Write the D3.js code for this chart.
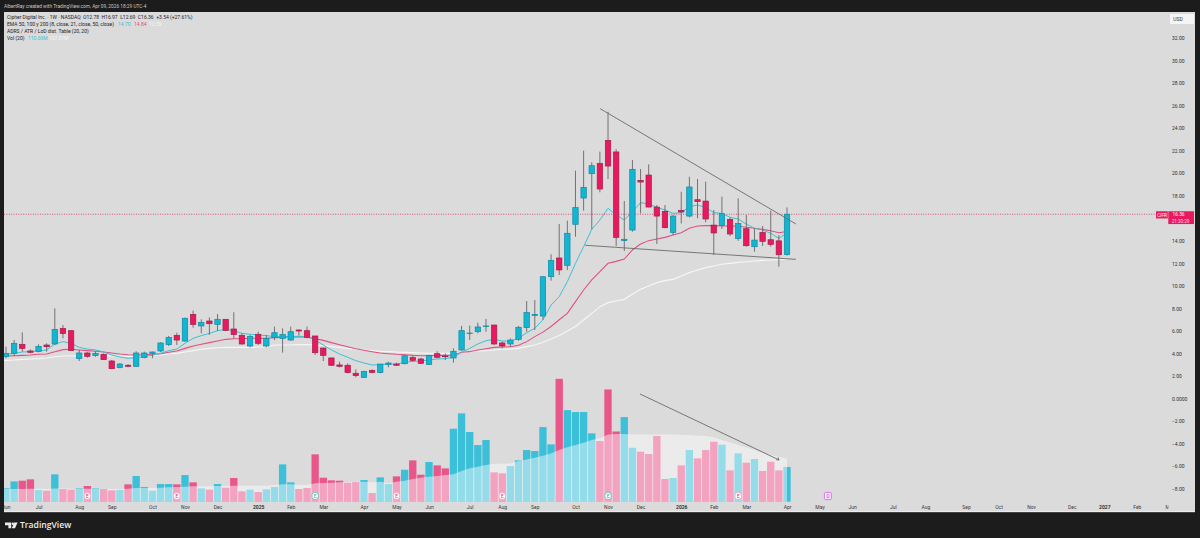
<!DOCTYPE html>
<html><head><meta charset="utf-8">
<script src="https://cdn.jsdelivr.net/npm/d3@7"></script>
<style>html,body{margin:0;padding:0;background:#1c1c1c;overflow:hidden}svg{display:block}text{font-family:Roboto,"Noto Sans",sans-serif}</style>
</head><body><svg id="c" width="1200" height="538"></svg>
<script>
// Weekly bars; the first entry is the partly hidden bar left of June 2024.
const open=[3.75,3.73,4.02,4.82,4.23,4.17,4.76,4.85,6.24,6.03,3.55,4.05,3.81,3.93,3.34,2.75,2.96,2.87,3.64,4.02,4.23,4.79,5.62,5.11,7.48,6.45,6.89,6.59,7.04,6.18,5.62,4.67,5.71,4.67,5.41,5.35,5.2,6.09,6.03,5.56,4.49,3.61,2.99,2.96,2.25,1.89,2.51,2.31,3.04,3.07,3.1,3.64,3.52,3.04,3.99,3.78,3.61,4.32,5.77,5.94,6.39,6.53,4.94,4.85,5.26,6.3,7.39,7.33,10.82,12.48,11.83,15.47,17.8,19.96,20.88,22.92,21.89,14.02,14.96,19.37,19.84,17.0,16.62,14.75,16.71,16.2,17.65,17.53,15.4,15.35,15.91,14.22,15.08,13.48,14.75,14.1,14.0,12.78];
const close=[3.95,4.02,4.91,4.46,4.11,4.64,4.61,6.15,5.77,4.26,4.05,3.75,4.02,3.46,2.66,3.07,2.87,4.05,4.05,4.14,4.94,5.44,5.2,7.13,6.59,6.77,6.65,7.04,6.06,5.68,4.85,5.53,4.91,5.35,5.85,5.68,5.94,6.0,5.44,4.08,3.84,2.96,2.87,2.31,2.04,2.4,2.33,3.07,3.16,2.96,3.81,3.4,3.13,3.84,3.67,3.72,4.2,6.03,5.82,6.36,6.45,4.85,4.67,5.2,6.33,7.63,7.48,10.82,12.27,11.42,14.67,16.95,18.75,20.67,18.6,20.64,14.31,14.14,20.35,19.22,17.0,16.2,15.17,16.2,16.56,18.78,17.5,15.94,14.7,16.41,14.61,15.55,13.57,14.07,13.96,13.69,12.77,16.36];
const high=[4.05,4.61,5.2,5.88,4.37,4.82,4.91,8.01,6.53,6.09,4.32,4.14,4.2,4.02,3.43,3.16,3.07,4.2,4.17,4.17,5.0,5.56,5.85,7.19,7.81,7.04,7.21,7.51,7.04,7.66,5.8,5.65,5.94,5.65,6.39,6.24,6.39,6.15,6.39,5.56,4.55,3.64,3.28,3.13,2.6,2.48,2.6,3.07,3.28,3.19,3.87,3.78,3.61,3.9,4.2,4.02,4.46,6.45,6.48,6.74,7.07,6.56,5.06,5.35,6.45,8.66,8.75,10.82,12.81,15.5,15.79,20.23,22.0,20.97,21.92,25.46,22.12,17.54,21.18,20.38,20.79,17.18,17.18,16.29,18.36,19.69,19.49,19.25,16.74,17.92,16.06,17.77,16.29,15.11,15.32,16.68,14.52,16.97];
const low=[3.6,3.58,3.78,4.17,4.02,4.11,4.17,4.76,5.35,4.23,3.34,3.64,3.72,3.43,2.6,2.69,2.78,2.81,3.58,3.58,4.14,4.67,4.76,5.06,6.3,5.8,5.65,6.0,6.0,5.35,4.76,4.55,4.76,4.55,5.2,4.08,5.14,5.59,5.35,3.87,3.34,2.9,2.78,2.25,1.89,1.83,2.25,2.25,2.78,2.9,3.04,3.28,3.07,2.98,3.58,3.43,3.19,4.23,5.2,5.8,5.94,4.76,4.46,4.61,5.14,5.94,6.09,7.0,10.47,10.97,11.42,14.37,16.68,15.02,18.31,19.49,13.55,13.1,14.82,16.44,16.98,13.72,15.11,14.52,15.55,16.09,16.0,15.64,12.74,15.05,14.43,14.0,13.48,13.04,13.54,13.48,11.71,12.69];
const emaBlue=[3.85,3.93,4.02,4.14,4.17,4.23,4.32,4.85,5.06,4.91,4.55,4.40,4.32,4.14,3.87,3.70,3.58,3.64,3.75,3.84,4.02,4.26,4.40,4.91,5.35,5.59,5.79,6.03,6.15,6.03,5.79,5.71,5.65,5.59,5.50,5.50,5.50,5.53,5.50,5.20,4.76,4.32,3.96,3.67,3.37,3.16,2.99,3.01,3.07,3.07,3.22,3.31,3.34,3.43,3.52,3.55,3.67,4.11,4.46,4.85,5.14,5.26,5.11,5.11,5.35,5.85,6.24,7.0,8.3,9.05,10.38,12.01,13.49,15.02,15.85,16.89,16.30,15.85,16.59,17.39,17.27,16.98,16.74,16.44,16.50,17.03,17.18,16.97,16.50,16.44,16.09,15.94,15.49,15.11,14.96,14.67,14.22,14.70];
const emaPink=[3.76,3.78,3.81,3.84,3.87,3.93,3.96,4.17,4.35,4.38,4.32,4.26,4.20,4.14,4.05,3.96,3.90,3.87,3.90,3.93,3.99,4.11,4.23,4.46,4.67,4.82,4.97,5.11,5.26,5.32,5.32,5.35,5.35,5.35,5.41,5.44,5.47,5.50,5.47,5.32,5.17,4.97,4.79,4.61,4.43,4.29,4.17,4.05,3.99,3.93,3.90,3.84,3.81,3.81,3.84,3.84,3.87,4.11,4.17,4.32,4.43,4.55,4.58,4.61,4.73,5.06,5.5,5.9,6.4,7.0,7.57,8.61,9.64,10.53,11.27,12.01,12.18,12.39,13.19,13.72,14.02,14.17,14.31,14.52,14.72,15.11,15.32,15.35,15.35,15.32,15.32,15.29,15.20,15.11,15.02,14.90,14.72,14.84];
const emaWhite=[3.38,3.40,3.43,3.49,3.52,3.55,3.61,3.72,3.78,3.81,3.81,3.81,3.81,3.81,3.78,3.78,3.75,3.75,3.78,3.81,3.87,3.96,4.02,4.14,4.26,4.38,4.46,4.52,4.55,4.55,4.55,4.55,4.58,4.58,4.76,4.76,4.76,4.79,4.79,4.76,4.70,4.61,4.55,4.46,4.38,4.32,4.26,4.20,4.17,4.14,4.11,4.08,4.05,4.02,4.02,4.02,4.02,4.11,4.17,4.23,4.26,4.32,4.38,4.40,4.46,4.61,4.76,5.0,5.3,5.6,6.0,6.4,6.98,7.57,8.16,8.52,8.66,8.81,9.29,9.70,10.0,10.29,10.47,10.58,10.88,11.18,11.41,11.62,11.77,11.92,12.0,12.09,12.15,12.21,12.27,12.30,12.36,12.39];
const volume=[42,42.5,64.8,67,71.2,37.2,35,87.2,40.4,38.3,42.5,50,42.5,40.4,36.1,37.2,55.3,81.9,46.8,35,56.3,56.3,55.3,85,61.7,42.5,38.3,56.3,44.6,75.5,33,38.3,30.8,39.3,46.8,119,61.7,40.4,43.6,151,76.5,68,67,60.6,62.7,69.1,27.6,77.6,56.3,80.8,102,131.8,86.1,126.5,115.9,106.3,232.8,281.7,222.2,180.7,196.7,93.5,90.4,113.7,131.8,164.8,161.6,238,182.8,392,292,286,286,218,193.5,358,224,270,172,159.5,152,209.4,72.3,75.5,115.9,164.8,138.2,164.8,191.3,181.8,99.9,154.1,124.4,136.1,97.8,127.6,99.9,110.69];
const volumeMA=[40.4,40.4,40.4,40.4,41.5,41.5,40.4,42.5,42.5,41.5,41.5,41.5,41.5,41.5,40.4,40.4,41.5,43.6,43.6,43.6,44.6,45.7,46.8,47.8,48.9,48.9,48.9,50,50,51,51,51,51,51,52.1,55.3,55.3,53.2,53.2,58.5,59.5,60.6,61.7,62.7,63.8,63.8,61.7,63.8,59.5,63.8,67,72.3,76.5,79.7,81.9,85,87.2,97.8,106.3,111.6,116.9,121.2,121.2,122.2,129.7,135,140.3,146.7,154.1,164.8,173.3,180.7,188.2,196.7,202,214.7,215.8,215.8,214.7,214.7,214.7,214.7,214.7,214.7,212.6,212.6,210.5,209.4,205.2,196.7,189.2,180.7,173.3,164.8,156.3,148.8,143.5,137.07];

const priceTicks=[32,30,28,26,24,22,20,18,14,12,10,8,6,4,2,0,-2,-4,-6,-8];
const timeTickWeeks=[0,4,9,13,18,22,26,31,35,39,44,48,52,57,61,65,70,74,78,83,87,91,96,100,104,109,113,118,122,126,131,135,139,143];
const timeTickLabels=["Jun","Jul","Aug","Sep","Oct","Nov","Dec","2025","Feb","Mar","Apr","May","Jun","Jul","Aug","Sep","Oct","Nov","Dec","2026","Feb","Mar","Apr","May","Jun","Jul","Aug","Sep","Oct","Nov","Dec","2027","Feb","Mar"];
const earningsWeeks=[10,21,38,48,61,74,90];
const earningsBeat=[false,false,true,false,false,true,false];
const upperTrendWeeks=[73.03,97.09], upperTrendPrices=[25.73,15.5];
const lowerTrendWeeks=[71.18,97.09], lowerTrendPrices=[13.61,12.36];
const volumeArrowWeeks=[77.94,95.03], volumeArrowPrices=[0.41,-5.44];
const lastPrice=16.36, dividendWeek=101;

const UP="#12b6d2",DOWN="#e8195f",UPEDGE="#0f8ba3",DOWNEDGE="#a81c4c";
const W=1200,H=538,L=4,T=12,R=1195,B=512;
const svg=d3.select("#c");
const week=d3.scaleLinear().domain([0,96]).range([6,787]);
const price=d3.scaleLinear().domain([32,-8]).range([38,488.8]);
const vol=d3.scaleLinear().domain([0,392]).range([501.7,378.8]);
const X=i=>week(i-1); // array position -> week position
const bars=d3.range(open.length);

svg.append("rect").attr("width",W).attr("height",H).attr("fill","#1c1c1c");
svg.append("rect").attr("x",L).attr("y",T).attr("width",R-L).attr("height",B-T).attr("fill","#dbdbdb");
svg.append("rect").attr("x",L).attr("y",B-1).attr("width",R-L).attr("height",1.2).attr("fill","#ececec");
svg.append("defs").append("clipPath").attr("id","pane").append("rect").attr("x",L).attr("y",T).attr("width",1166).attr("height",B-T-1);
const g=svg.append("g").attr("clip-path","url(#pane)");

// volume
const barW=(week(1)-week(0))-0.8;
g.append("g").selectAll("rect").data(bars).join("rect")
 .attr("x",i=>X(i)-barW/2).attr("width",barW)
 .attr("y",i=>vol(volume[i])).attr("height",i=>vol(0)-vol(volume[i]))
 .attr("fill",i=>close[i]>=open[i]?"#3cc0d9":"#e9568a");
g.append("path").datum(bars)
 .attr("d",d3.area().x(X).y0(vol(0)).y1(i=>vol(volumeMA[i])))
 .attr("fill","#fff").attr("fill-opacity",0.45);

// EMAs
[[emaWhite,"#f6f6f6",1.15],[emaPink,"#e0507f",1.05],[emaBlue,"#3fc0d4",1]].forEach(([a,c,w])=>{
 g.append("path").datum(a).attr("fill","none").attr("stroke",c).attr("stroke-width",w)
  .attr("d",d3.line().x((d,i)=>X(i)).y(d=>price(d)));
});

// last-price line
g.append("line").attr("x1",L).attr("x2",1156).attr("y1",price(lastPrice)).attr("y2",price(lastPrice))
 .attr("stroke","#c4385f").attr("stroke-width",0.8).attr("stroke-dasharray","1 1.4");

// candles
const cg=g.append("g");
cg.selectAll("line").data(bars).join("line")
 .attr("x1",X).attr("x2",X).attr("y1",i=>price(high[i])).attr("y2",i=>price(low[i]))
 .attr("stroke","#666").attr("stroke-width",0.9);
const bodyW=5.4;
cg.selectAll("rect").data(bars).join("rect")
 .attr("x",i=>X(i)-bodyW/2).attr("width",bodyW)
 .attr("y",i=>price(Math.max(open[i],close[i])))
 .attr("height",i=>Math.max(0.6,Math.abs(price(open[i])-price(close[i]))))
 .attr("fill",i=>close[i]>=open[i]?UP:DOWN)
 .attr("stroke",i=>close[i]>=open[i]?UPEDGE:DOWNEDGE).attr("stroke-width",0.7);

// drawings
const segment=(wk,pr)=>g.append("line").attr("x1",week(wk[0])).attr("x2",week(wk[1])).attr("y1",price(pr[0])).attr("y2",price(pr[1])).attr("stroke","#6b6b6b").attr("stroke-width",0.9);
segment(upperTrendWeeks,upperTrendPrices);
segment(lowerTrendWeeks,lowerTrendPrices);
segment(volumeArrowWeeks,volumeArrowPrices);
const ax=week(volumeArrowWeeks[1]),ay=price(volumeArrowPrices[1]);
g.append("path").attr("d",`M${ax-3},${ay-0.2}L${ax},${ay}L${ax-1.2},${ay-2.8}`).attr("fill","none").attr("stroke","#6b6b6b").attr("stroke-width",0.8);

// earnings badges
const ey=496;
const eg=g.append("g").selectAll("g").data(earningsWeeks).join("g").attr("transform",d=>`translate(${week(d)},${ey})`);
eg.append("rect").attr("x",-3.2).attr("y",-3.4).attr("width",6.4).attr("height",6.8).attr("rx",2.6)
 .attr("fill","#fff").attr("stroke",(d,i)=>earningsBeat[i]?"#59c6b0":"#f7a5bf").attr("stroke-width",0.9);
eg.append("text").text("E").attr("text-anchor","middle").attr("y",1.7).attr("font-size",4.6).attr("fill",(d,i)=>earningsBeat[i]?"#2a9d8f":"#e8195f");
const dg=g.append("g").attr("transform",`translate(${week(dividendWeek)},${ey})`);
dg.append("rect").attr("x",-3.3).attr("y",-3.6).attr("width",7).attr("height",7.2).attr("rx",1.2).attr("fill","#f8e4fb").attr("stroke","#d76be6").attr("stroke-width",0.9);
dg.append("text").text("D").attr("text-anchor","middle").attr("x",0.2).attr("y",1.7).attr("font-size",4.6).attr("fill","#c040d8");

// price axis
const pa=svg.append("g").attr("transform","translate(1171,0)")
 .call(d3.axisRight(price).tickValues(priceTicks).tickSize(0).tickPadding(1)
  .tickFormat(d=>d===0?"0.0000":(d<0?"\u2212":"")+Math.abs(d).toFixed(2)));
pa.select(".domain").remove();
pa.selectAll("text").attr("font-size",5).attr("fill","#2e2e2e");

// time axis
const ta=svg.append("g").attr("transform","translate(0,502)")
 .call(d3.axisBottom(week).tickValues(timeTickWeeks).tickSize(0).tickPadding(3.2)
  .tickFormat((d,i)=>timeTickLabels[i]));
ta.select(".domain").remove();
ta.selectAll("text").attr("font-size",5).attr("fill",(d,i)=>/^20/.test(timeTickLabels[i])?"#222":"#3a3a3a")
 .attr("font-weight",(d,i)=>/^20/.test(timeTickLabels[i])?"600":"400");
// labels at the pane edges are cut off, as in the reference
svg.append("rect").attr("x",0).attr("y",T).attr("width",L).attr("height",B-T).attr("fill","#1c1c1c");
svg.append("rect").attr("x",1168.5).attr("y",502).attr("width",26.5).attr("height",9).attr("fill","#dbdbdb");

// currency + price labels
svg.append("rect").attr("x",1170).attr("y",14).attr("width",24).attr("height",10).attr("fill","#f5f5f5").attr("rx",0.5);
svg.append("text").text("USD").attr("x",1178).attr("y",20.8).attr("text-anchor","middle").attr("font-size",5).attr("fill","#333");
const py=price(lastPrice);
svg.append("rect").attr("x",1156).attr("y",py-3).attr("width",11.8).attr("height",7.2).attr("fill",DOWN);
svg.append("text").text("CIFR").attr("x",1162).attr("y",py+2.4).attr("text-anchor","middle").attr("font-size",4.6).attr("fill","#fff");
svg.append("rect").attr("x",1168.3).attr("y",py-3).attr("width",25.7).attr("height",12.8).attr("fill",DOWN);
svg.append("text").text(lastPrice.toFixed(2)).attr("x",1178.5).attr("y",py+1.8).attr("text-anchor","middle").attr("font-size",4.8).attr("fill","#fff");
svg.append("text").text("21:30:29").attr("x",1180.5).attr("y",py+8.4).attr("text-anchor","middle").attr("font-size",4.6).attr("fill","#ffd6e3");

// header
svg.append("text").text("AlbertRay created with TradingView.com, Apr 09, 2026 18:29 UTC-4").attr("x",4).attr("y",7.8).attr("font-size",4.8).attr("fill","#c8c8c8");

// legend
const leg=svg.append("g").attr("font-size",5).attr("fill","#222");
leg.append("text").text("Cipher Digital Inc. \u00b7 1W \u00b7 NASDAQ  O12.78  H16.97  L12.69  C16.36  +3.54 (+27.61%)").attr("x",7).attr("y",18.8).attr("xml:space","preserve");
const r2=leg.append("text").attr("x",7).attr("y",26);
r2.append("tspan").text("EMA 50, 100 y 200 (8, close, 21, close, 50, close)");
r2.append("tspan").attr("fill","#3fc0d4").attr("x",118).text("14.70");
r2.append("tspan").attr("fill","#e0507f").attr("x",134).text("14.84");
r2.append("tspan").attr("fill","#f6f6f6").attr("x",149).text("12.59");
leg.append("text").text("ADRS / ATR / LoD dist. Table (20, 20)").attr("x",7).attr("y",32.8);
const r4=leg.append("text").attr("x",7).attr("y",39.8);
r4.append("tspan").text("Vol (20)");
r4.append("tspan").attr("fill","#3fc0d4").attr("x",28).text("110.69M");
r4.append("tspan").attr("fill","#f6f6f6").attr("x",49).text("137.07M");

// footer logo
const lg=svg.append("g").attr("fill","#ececec");
lg.append("path").attr("d","M5,522.6H11.2V528.2H8.4V525.2H5Z");
lg.append("circle").attr("cx",12.8).attr("cy",523.8).attr("r",1.2);
lg.append("path").attr("d","M14.2,522.6H17.6L15,528.2H11.8Z");
lg.append("text").text("TradingView").attr("x",20).attr("y",528.4).attr("font-size",8.6).attr("font-weight",600).style("font-family","'Open Sans',sans-serif");
</script></body></html>
